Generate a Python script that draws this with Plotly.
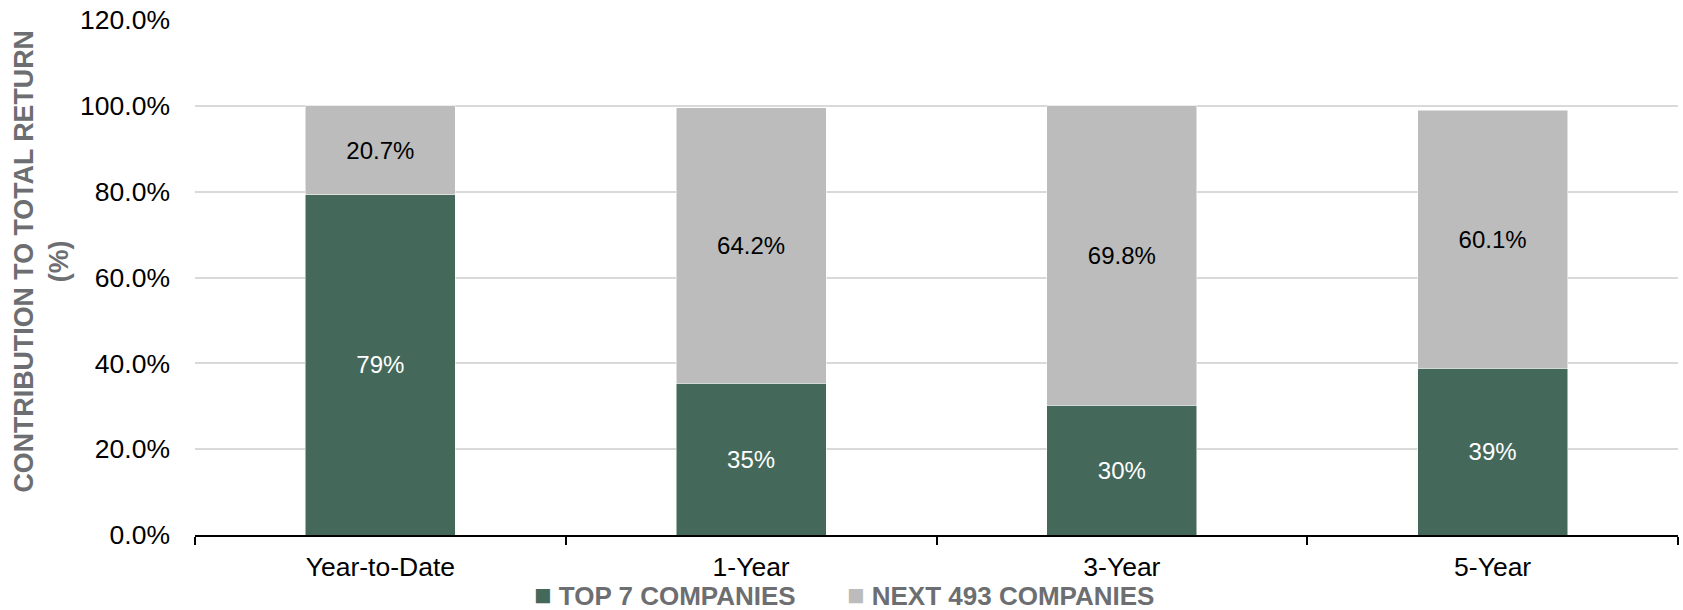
import plotly.graph_objects as go

periods = ["Year-to-Date", "1-Year", "3-Year", "5-Year"]
top7 = [79.3, 35.4, 30.2, 38.9]
next493 = [20.7, 64.2, 69.8, 60.1]
series_names = ["TOP 7 COMPANIES", "NEXT 493 COMPANIES"]

GREEN = "#44695A"
GRAY = "#BBBCBB"
TITLE_GRAY = "#6D6E71"
FONT = "Liberation Sans, Arial, sans-serif"
colors = [GREEN, GRAY]

fig = go.Figure()
fig.add_trace(go.Bar(
    x=periods, y=top7, name=series_names[0], showlegend=False,
    marker=dict(color=GREEN, line=dict(color="#ffffff", width=0.5)),
    texttemplate="%{y:.0f}%", textposition="inside", insidetextanchor="middle",
    textangle=0, constraintext="none",
    textfont=dict(family=FONT, size=24, color="#ffffff"),
))
fig.add_trace(go.Bar(
    x=periods, y=next493, name=series_names[1], showlegend=False,
    marker=dict(color=GRAY, line=dict(color="#ffffff", width=0.5)),
    texttemplate="%{y:.1f}%", textposition="inside", insidetextanchor="middle",
    textangle=0, constraintext="none",
    textfont=dict(family=FONT, size=24, color="#000000"),
))

fig.update_layout(
    barmode="stack",
    bargap=0.595,
    width=1683, height=610,
    margin=dict(l=195, r=5, t=20, b=75),
    plot_bgcolor="#ffffff", paper_bgcolor="#ffffff",
    font=dict(family=FONT, size=24, color="#000000"),
    hovermode=False,
)

fig.update_xaxes(
    automargin=False,
    showline=True, linecolor="#000000", linewidth=2,
    ticks="outside", tickson="boundaries", ticklen=8, tickwidth=2, tickcolor="#000000",
    tickfont=dict(family=FONT, size=26.5, color="#000000"),
    ticklabelstandoff=7,
    showgrid=False,
)
fig.update_yaxes(
    automargin=False,
    range=[0, 120], dtick=20, tickformat=".1f", ticksuffix="%",
    showgrid=True, gridcolor="#D9D9D9", gridwidth=2,
    zeroline=False, showline=False, ticks="",
    ticklabelstandoff=24,
    tickfont=dict(family=FONT, size=26.5, color="#000000"),
)

# y-axis title, two lines
fig.add_annotation(
    text="CONTRIBUTION TO TOTAL RETURN<br>(%)",
    xref="paper", yref="paper", x=-0.1035, y=0.53,
    xanchor="center", yanchor="middle", textangle=-90, showarrow=False,
    font=dict(family=FONT, size=26.8, color=TITLE_GRAY, weight="bold"),
)

# legend row under the axis: colour swatch + series name
legend_x = [0.2273, 0.4383]
for name, color, lx in zip(series_names, colors, legend_x):
    fig.add_annotation(
        text=f"<span style='color:{color};font-size:29px'>■</span> {name}",
        xref="paper", yref="paper", x=lx, y=-0.151,
        xanchor="left", yanchor="bottom", showarrow=False,
        font=dict(family=FONT, size=26, color=TITLE_GRAY, weight="bold"),
    )

fig.write_html("out.html")
